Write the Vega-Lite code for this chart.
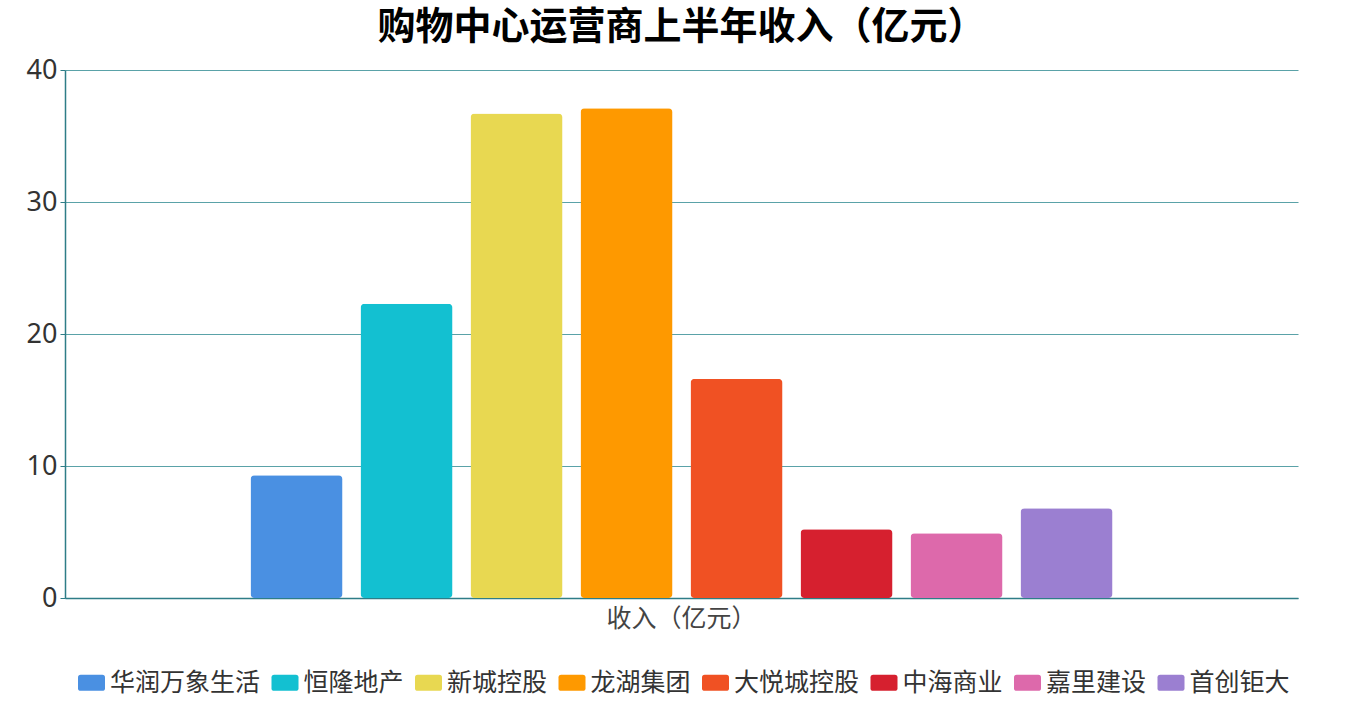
{
  "$schema": "https://vega.github.io/schema/vega-lite/v6.json",
  "width": 1233,
  "height": 528,
  "autosize": {"type": "none"},
  "padding": {"left": 65, "top": 70, "right": 70, "bottom": 103},
  "background": "white",
  "config": {
    "view": {"stroke": null},
    "font": "Noto Sans, Noto Sans CJK SC, sans-serif"
  },
  "title": {
    "text": "购物中心运营商上半年收入（亿元）",
    "fontSize": 38,
    "fontWeight": "bold",
    "color": "#000000",
    "font": "Noto Sans CJK SC",
    "anchor": "middle",
    "frame": "group",
    "offset": 9
  },
  "data": {
    "values": [
      {"category": "收入（亿元）", "company": "华润万象生活", "value": 9.3},
      {"category": "收入（亿元）", "company": "恒隆地产", "value": 22.3},
      {"category": "收入（亿元）", "company": "新城控股", "value": 36.7},
      {"category": "收入（亿元）", "company": "龙湖集团", "value": 37.1},
      {"category": "收入（亿元）", "company": "大悦城控股", "value": 16.6},
      {"category": "收入（亿元）", "company": "中海商业", "value": 5.2},
      {"category": "收入（亿元）", "company": "嘉里建设", "value": 4.9},
      {"category": "收入（亿元）", "company": "首创钜大", "value": 6.8}
    ]
  },
  "mark": {"type": "bar", "cornerRadius": 4},
  "encoding": {
    "x": {
      "field": "category",
      "type": "nominal",
      "scale": {"paddingInner": 0, "paddingOuter": 0.2152},
      "axis": {
        "title": null,
        "labelAngle": 0,
        "labelFontSize": 25,
        "labelColor": "#444444",
        "labelFont": "Noto Sans CJK SC",
        "labelPadding": 8,
        "ticks": false,
        "domainColor": "#2e7d87",
        "domainWidth": 1.5,
        "grid": false
      }
    },
    "xOffset": {
      "field": "company",
      "type": "nominal",
      "sort": null,
      "scale": {"paddingInner": 0.1636, "paddingOuter": 0}
    },
    "y": {
      "field": "value",
      "type": "quantitative",
      "scale": {"domain": [0, 40], "nice": false},
      "axis": {
        "title": null,
        "values": [0, 10, 20, 30, 40],
        "labelFontSize": 27,
        "labelColor": "#333333",
        "labelPadding": 3,
        "tickSize": 5,
        "tickColor": "#2e7d87",
        "domainColor": "#2e7d87",
        "domainWidth": 1.5,
        "gridColor": "#5aa2a8",
        "gridWidth": 1.2
      }
    },
    "color": {
      "field": "company",
      "type": "nominal",
      "sort": null,
      "scale": {
        "domain": ["华润万象生活", "恒隆地产", "新城控股", "龙湖集团", "大悦城控股", "中海商业", "嘉里建设", "首创钜大"],
        "range": ["#4a90e2", "#13c0d1", "#e8d851", "#fe9900", "#f05123", "#d6202f", "#dd69ab", "#9b7fd1"]
      },
      "legend": {
        "title": null,
        "orient": "none",
        "legendX": 14,
        "legendY": 600,
        "direction": "horizontal",
        "labelFontSize": 25,
        "labelColor": "#333333",
        "labelFont": "Noto Sans CJK SC",
        "symbolType": "M-1.2,-0.9 L1.2,-0.9 Q1.5,-0.9 1.5,-0.6 L1.5,0.6 Q1.5,0.9 1.2,0.9 L-1.2,0.9 Q-1.5,0.9 -1.5,0.6 L-1.5,-0.6 Q-1.5,-0.9 -1.2,-0.9 Z",
        "symbolSize": 324,
        "symbolStrokeWidth": 0,
        "symbolOpacity": 1,
        "labelOffset": 6,
        "columnPadding": 10.5
      }
    }
  }
}
